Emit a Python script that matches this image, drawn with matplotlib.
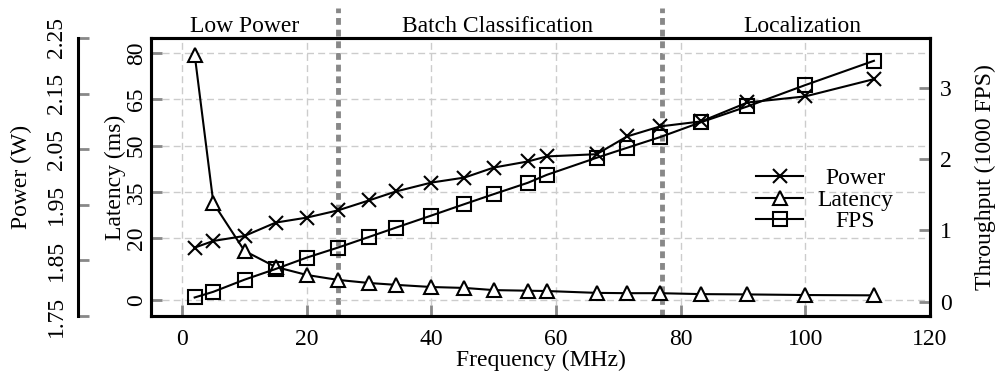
import matplotlib
matplotlib.use('Agg')
import matplotlib.pyplot as plt

plt.rcParams['font.family'] = ['Liberation Serif', 'DejaVu Serif']
plt.rcParams['font.size'] = 17
plt.rcParams['mathtext.fontset'] = 'stix'

# data
freq = [2, 5, 10, 15, 20, 25, 30, 34.3, 40, 45.3, 50, 55.5, 58.5, 66.5, 71.4, 76.7, 83.3, 90.7, 100, 111]
power = [1.873, 1.885, 1.894, 1.918, 1.927, 1.940, 1.958, 1.974, 1.990, 1.999,
         2.017, 2.028, 2.037, 2.041, 2.073, 2.091, 2.100, 2.134, 2.145, 2.176]
latency = [79.5, 31.4, 15.9, 10.7, 8.1, 6.5, 5.5, 4.9, 4.2, 3.9,
           3.2, 3.0, 2.9, 2.3, 2.2, 2.2, 1.9, 1.8, 1.6, 1.5]
fps = [0.06, 0.14, 0.31, 0.46, 0.62, 0.76, 0.91, 1.04, 1.21, 1.37,
       1.51, 1.67, 1.78, 2.02, 2.16, 2.31, 2.52, 2.74, 3.04, 3.38]

latency_ticks = [0, 20, 35, 50, 65, 80]
power_ticks = [1.75, 1.85, 1.95, 2.05, 2.15, 2.25]
fps_ticks = [0, 1, 2, 3]
freq_ticks = [0, 20, 40, 60, 80, 100, 120]

region_bounds = [25, 77]
region_names = ['Low Power', 'Batch Classification', 'Localization']
region_centers = [10, 50.6, 99.5]

tick_grey = '#888888'
lw = 1.5
ms = 9.5

fig = plt.figure(figsize=(9.97, 3.71), dpi=100)
ax = fig.add_axes([0.1515, 0.1482, 0.7813, 0.7494])
ax_fps = ax.twinx()
ax_pow = ax.twinx()

# grid + region separators on the latency axis
ax.grid(True, color='#cccccc', linestyle=(0, (5, 3)), linewidth=1)
for b in region_bounds:
    ax.axvline(b, ymin=0, ymax=1.108, color=tick_grey, linewidth=3.5,
               linestyle=(0, (1.4, 1.0)), clip_on=False, zorder=1)
for name, c in zip(region_names, region_centers):
    ax.text(c, 1.022, name, transform=ax.get_xaxis_transform(),
            ha='center', va='baseline')

l_pow, = ax_pow.plot(freq, power, color='black', lw=lw, marker='x', ms=ms,
                     mew=lw, label='Power')
l_lat, = ax.plot(freq, latency, color='black', lw=lw, marker='^', ms=ms,
                 mew=lw, mfc='white', label='Latency')
l_fps, = ax_fps.plot(freq, fps, color='black', lw=lw, marker='s', ms=ms,
                     mew=lw, mfc='none', label='FPS')

ax.set_xlim(-5, 120)
ax.set_xticks(freq_ticks)
ax.set_ylim(-5.2, 84.9)
ax.set_yticks(latency_ticks)
ax_fps.set_ylim(-0.2, 3.7)
ax_fps.set_yticks(fps_ticks)
ax_pow.set_ylim(1.75, 2.25)
ax_pow.set_yticks(power_ticks)
ax_pow.set_yticklabels(['%.2f' % v for v in power_ticks])

for a in (ax, ax_fps, ax_pow):
    for s in a.spines.values():
        s.set_linewidth(2.2)

ax.tick_params(axis='x', direction='in', length=8, width=2, color=tick_grey, pad=9)
ax.tick_params(axis='y', direction='in', length=8, width=2, color=tick_grey, pad=3)
for t in ax.get_yticklabels():
    t.set_rotation(90)
    t.set_va('center')
ax_fps.tick_params(axis='y', direction='in', length=8, width=2, color=tick_grey, pad=7)

# power axis: separate spine out on the left
ax_pow.yaxis.set_ticks_position('left')
ax_pow.yaxis.set_label_position('left')
ax_pow.spines['left'].set_position(('axes', -0.0937))
ax_pow.spines['left'].set_visible(True)
for side in ('right', 'top', 'bottom'):
    ax_pow.spines[side].set_visible(False)
ax_pow.tick_params(axis='y', direction='in', length=8, width=2, color=tick_grey, pad=8)
for t in ax_pow.get_yticklabels():
    t.set_rotation(90)
    t.set_va('center')

ax.set_xlabel('Frequency (MHz)', labelpad=0)
ax.set_ylabel('Latency (ms)')
ax.yaxis.set_label_coords(-0.032, 0.5)
ax_pow.set_ylabel('Power (W)')
ax_pow.yaxis.set_label_coords(-0.153, 0.5)
ax_fps.set_ylabel('Throughput (1000 FPS)')
ax_fps.yaxis.set_label_coords(1.058, 0.5)

leg = ax_fps.legend([l_pow, l_lat, l_fps], ['Power', 'Latency', 'FPS'],
                    loc='center', bbox_to_anchor=(0.865, 0.417), frameon=False,
                    handlelength=2.0, handletextpad=0.6, labelspacing=0.0,
                    borderpad=0.2)

# center the legend labels in their column
fig.canvas.draw()
renderer = fig.canvas.get_renderer()
texts = leg.get_texts()
widths = [t.get_window_extent(renderer).width for t in texts]
maxw = max(widths)
for t, w in zip(texts, widths):
    t.set_position(((maxw - w) / 2, 0))

fig.savefig('out.png', dpi=100)
